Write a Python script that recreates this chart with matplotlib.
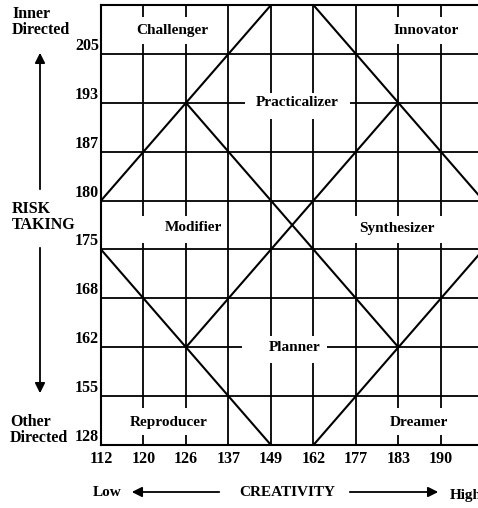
# Grafica de creatividad vs toma de riesgos
import matplotlib
matplotlib.use('Agg')
import matplotlib.pyplot as plt
from matplotlib.patches import Rectangle, FancyArrowPatch

plt.rcParams['font.family'] = ['Liberation Serif', 'DejaVu Serif']
plt.rcParams['font.weight'] = 'bold'

# Valores de los ejes (posiciones categoricas equiespaciadas)
creatividad = [112, 120, 126, 137, 149, 162, 177, 183, 190]
riesgo = [128, 155, 162, 168, 175, 180, 187, 193, 205]

# Diagonales: indice (x, y) de inicio y fin sobre la cuadricula
diagonales = [
    ((0, 5), (4, 9)),
    ((2, 7), (7, 2)),
    ((0, 4), (4, 0)),
    ((2, 2), (7, 7)),
    ((5, 9), (9, 5)),
    ((5, 0), (9, 4)),
]

# Nombres de las regiones y su posicion en la cuadricula
regiones = ['Challenger', 'Innovator', 'Practicalizer', 'Modifier',
            'Synthesizer', 'Planner', 'Reproducer', 'Dreamer']
reg_x = [1.68, 7.66, 4.62, 2.17, 6.96, 4.55, 1.6, 7.48]
reg_y = [8.47, 8.47, 7.0, 4.45, 4.43, 2.0, 0.47, 0.47]

# Huecos blancos que cortan la cuadricula alrededor de cada nombre
# (x0, x1, y0, y1) en indices de la cuadricula
huecos = [
    (0.5, 2.5, 8.2, 8.75),
    (6.5, 8.5, 8.2, 8.75),
    (0.5, 2.5, 4.14, 4.69),
    (5.5, 8.5, 4.14, 4.69),
    (0.5, 2.5, 0.2, 0.755),
    (6.5, 8.5, 0.2, 0.755),
    (3.38, 5.85, 6.67, 7.2),
    (3.33, 5.33, 1.67, 2.24),
]

fig = plt.figure(figsize=(4.78, 5.08), dpi=100)
ax = fig.add_axes([0.2113, 0.124, 0.80, 0.866])

n = len(creatividad)
ax.set_xlim(0, n)
ax.set_ylim(0, n)

# Cuadricula
for i in range(1, n):
    ax.plot([i, i], [0, n], color='black', lw=1.3, zorder=1)
    ax.plot([0, n], [i, i], color='black', lw=1.3, zorder=1)

# Huecos
for x0, x1, y0, y1 in huecos:
    ax.add_patch(Rectangle((x0, y0), x1 - x0, y1 - y0, facecolor='white',
                           edgecolor='none', zorder=1.5))

# Diagonales
for (x0, y0), (x1, y1) in diagonales:
    ax.plot([x0, x1], [y0, y1], color='black', lw=1.5, zorder=2)

# Nombres de las regiones
for nombre, x, y in zip(regiones, reg_x, reg_y):
    ax.text(x, y, nombre, ha='center', va='center', fontsize=11,
            fontweight='bold', zorder=3)

for lado in ['left', 'top', 'bottom']:
    ax.spines[lado].set_linewidth(1.5)
ax.spines['right'].set_visible(False)

ax.set_xticks([])
ax.set_yticks([])

# Etiquetas de los ejes
for i, v in enumerate(creatividad):
    ax.text(i, -0.12, str(v), ha='center', va='top', fontsize=11.5,
            fontweight='bold')
for i, v in enumerate(riesgo):
    ax.text(-0.05, i, str(v), ha='right', va='bottom',
            fontsize=11.5, fontweight='bold')

# Textos del lado izquierdo
fig.text(12 / 478, 1 - 22 / 508, 'Inner\nDirected', ha='left', va='center',
         fontsize=11.5, fontweight='bold', linespacing=1.05)
fig.text(12 / 478, 1 - 217 / 508, 'RISK\nTAKING', ha='left', va='center',
         fontsize=11.5, fontweight='bold', linespacing=1.05)
fig.text(10 / 478, 1 - 430 / 508, 'Other\nDirected', ha='left', va='center',
         fontsize=11.5, fontweight='bold', linespacing=1.05)

flecha = dict(arrowstyle='-|>', color='black', lw=1.3, mutation_scale=15)
fig.add_artist(FancyArrowPatch(
    (40 / 478, 1 - 192 / 508), (40 / 478, 1 - 50 / 508),
    transform=fig.transFigure, **flecha))
fig.add_artist(FancyArrowPatch(
    (40 / 478, 1 - 245 / 508), (40 / 478, 1 - 396 / 508),
    transform=fig.transFigure, **flecha))

# Textos inferiores
fig.text(93 / 478, 1 - 492 / 508, 'Low', ha='left', va='center',
         fontsize=11, fontweight='bold')
fig.text(287 / 478, 1 - 492 / 508, 'CREATIVITY', ha='center', va='center',
         fontsize=11, fontweight='bold')
fig.text(450 / 478, 1 - 495 / 508, 'High', ha='left', va='center',
         fontsize=11, fontweight='bold')
fig.add_artist(FancyArrowPatch(
    (222 / 478, 1 - 492 / 508), (129 / 478, 1 - 492 / 508),
    transform=fig.transFigure, **flecha))
fig.add_artist(FancyArrowPatch(
    (347 / 478, 1 - 492 / 508), (441 / 478, 1 - 492 / 508),
    transform=fig.transFigure, **flecha))

fig.savefig('out.png', dpi=100)
